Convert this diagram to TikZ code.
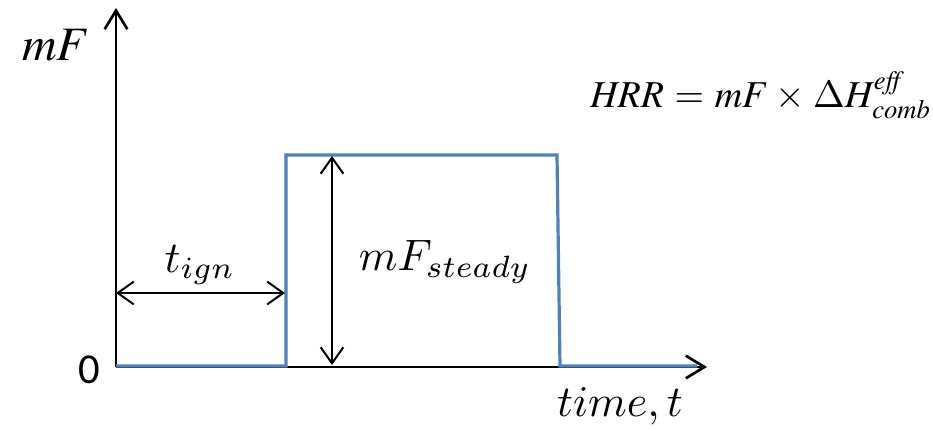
\documentclass[tikz,border=0pt]{standalone}
\usepackage{amsmath}
\usepackage{fontspec}
\newfontfamily\zerofont{Carlito}
\DeclareMathAlphabet{\mathtm}{OT1}{ptm}{m}{it}
\usetikzlibrary{arrows.meta}
\definecolor{pulseblue}{RGB}{79,129,189}
\tikzset{
  axis/.style={line width=2.2pt, -{Straight Barb[length=14pt,width=17pt,line width=2pt]}},
  dim/.style={line width=1.5pt, {Straight Barb[length=12pt,width=17pt,line width=1.5pt]}-{Straight Barb[length=12pt,width=17pt,line width=1.5pt]}},
  pulse/.style={pulseblue, line width=2.4pt, line join=miter},
  mathlab/.style={scale=3.3, inner sep=0pt}
}
\begin{document}
\begin{tikzpicture}[x=0.75pt,y=-0.75pt, line cap=butt]
\useasboundingbox (0,0) rectangle (933,431);
% axes
\coordinate (O) at (116,367);
\coordinate (ytop) at (116,8);
\coordinate (xend) at (707,367);
\draw[axis] (O) -- (ytop);
\draw[axis] (O) -- (xend);
% mass flux pulse
\coordinate (p0) at (116,366);
\coordinate (p1) at (286,366);
\coordinate (p2) at (286,155);
\coordinate (p3) at (557,155);
\coordinate (p4) at (560,366);
\coordinate (p5) at (697,366);
\draw[pulse] (p0) -- (p1) -- (p2) -- (p3) -- (p4) -- (p5);
% dimension arrows
\coordinate (ign0) at (116,293);
\coordinate (ign1) at (285,293);
\draw[dim] (ign0) -- (ign1);
\coordinate (st0) at (332,156);
\coordinate (st1) at (332,365);
\draw[dim] (st0) -- (st1);
% labels
\node[scale=3.6, inner sep=0pt] (ylab) at (55,45) {$\mathtm{mF}$};
\node (zero) at (89,370) {\fontsize{32}{36}\selectfont\zerofont 0};
\node[mathlab] (xlab) at (620,406) {$time, t$};
\node[mathlab] (tign) at (200,265) {$t_{ign}$};
\node[mathlab] (mfst) at (445,262) {$mF_{steady}$};
\node[scale=2.85, inner sep=0pt] (hrr) at (761,95) {$\mathtm{HRR} = \mathtm{mF} \times \Delta \mathtm{H}^{\mathtm{eff}}_{\mathtm{comb}}$};
\end{tikzpicture}
\end{document}
